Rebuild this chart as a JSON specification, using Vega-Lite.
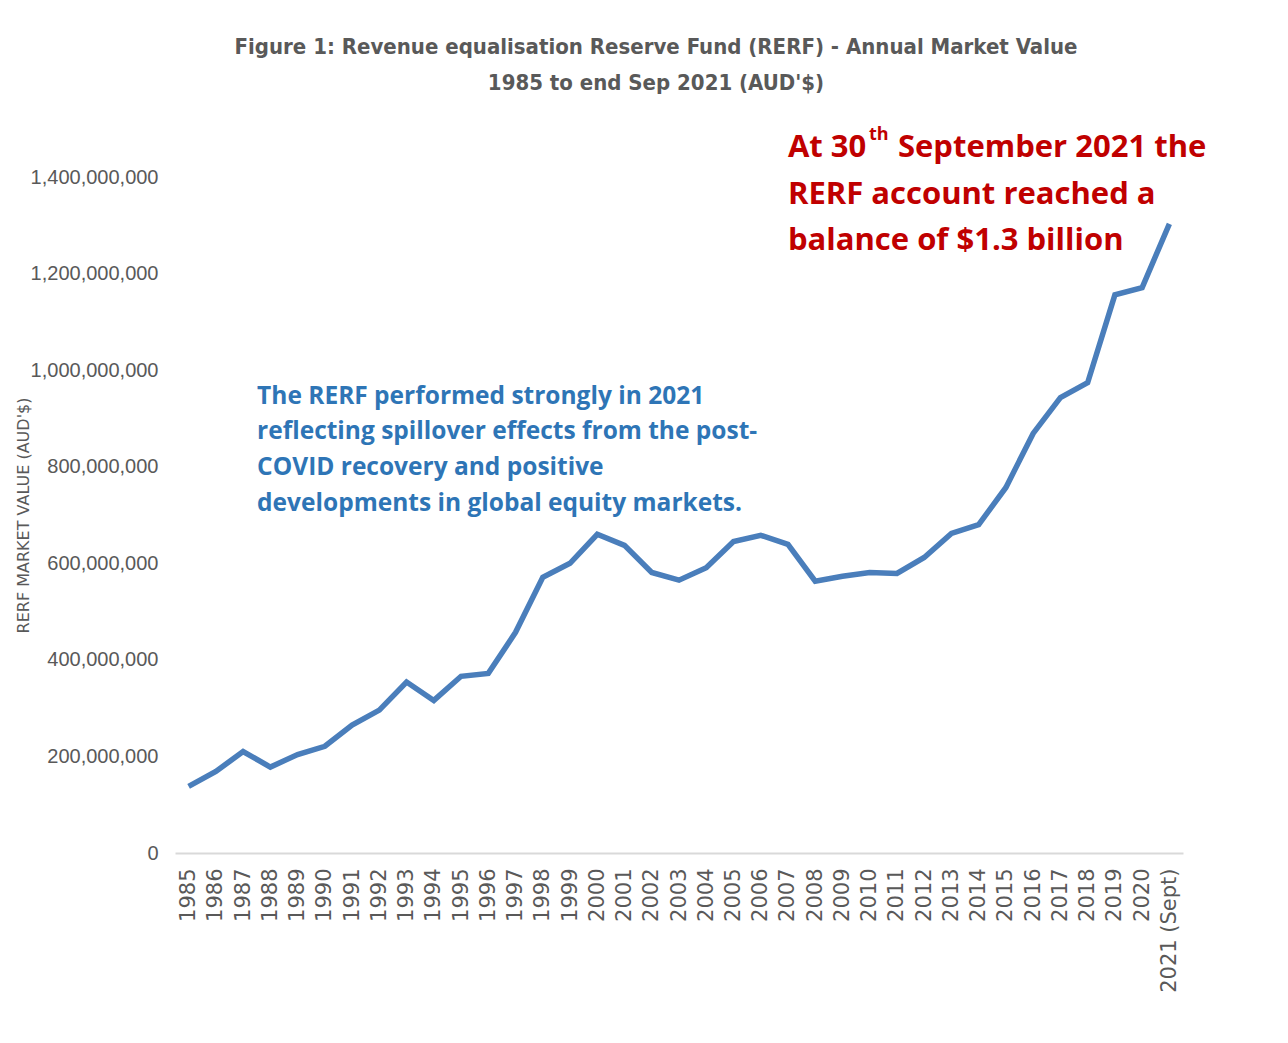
{
  "$schema": "https://vega.github.io/schema/vega-lite/v6.json",
  "width": 1008,
  "height": 676,
  "autosize": "none",
  "padding": {"left": 175, "top": 177, "right": 105, "bottom": 190},
  "background": "white",
  "title": {
    "text": ["Figure 1: Revenue equalisation Reserve Fund (RERF) - Annual Market Value", "1985 to end Sep 2021 (AUD'$)"],
    "font": "DejaVu Sans Condensed, Liberation Sans Narrow, sans-serif",
    "fontSize": 22,
    "fontWeight": "bold",
    "color": "#595959",
    "anchor": "middle",
    "dx": -23,
    "offset": 31,
    "lineHeight": 36
  },
  "config": {
    "view": {"stroke": null},
    "axis": {"grid": false, "ticks": false, "labelColor": "#595959", "titleColor": "#595959", "labelFont": "Liberation Sans, sans-serif", "titleFont": "DejaVu Sans, sans-serif"}
  },
  "datasets": {
    "rerf": [
      {"year": "1985", "value": 138000000},
      {"year": "1986", "value": 169000000},
      {"year": "1987", "value": 210000000},
      {"year": "1988", "value": 178000000},
      {"year": "1989", "value": 204000000},
      {"year": "1990", "value": 221000000},
      {"year": "1991", "value": 265000000},
      {"year": "1992", "value": 296000000},
      {"year": "1993", "value": 354000000},
      {"year": "1994", "value": 316000000},
      {"year": "1995", "value": 366000000},
      {"year": "1996", "value": 372000000},
      {"year": "1997", "value": 457000000},
      {"year": "1998", "value": 571000000},
      {"year": "1999", "value": 600000000},
      {"year": "2000", "value": 660000000},
      {"year": "2001", "value": 637000000},
      {"year": "2002", "value": 581000000},
      {"year": "2003", "value": 565000000},
      {"year": "2004", "value": 591000000},
      {"year": "2005", "value": 645000000},
      {"year": "2006", "value": 658000000},
      {"year": "2007", "value": 639000000},
      {"year": "2008", "value": 563000000},
      {"year": "2009", "value": 573000000},
      {"year": "2010", "value": 581000000},
      {"year": "2011", "value": 579000000},
      {"year": "2012", "value": 612000000},
      {"year": "2013", "value": 662000000},
      {"year": "2014", "value": 680000000},
      {"year": "2015", "value": 757000000},
      {"year": "2016", "value": 869000000},
      {"year": "2017", "value": 943000000},
      {"year": "2018", "value": 974000000},
      {"year": "2019", "value": 1156000000},
      {"year": "2020", "value": 1171000000},
      {"year": "2021 (Sept)", "value": 1303000000}
    ],
    "blueNote": [
      {"year": "1987", "value": 944000000, "text": "The RERF performed strongly in 2021"},
      {"year": "1987", "value": 872000000, "text": "reflecting spillover effects from the post-"},
      {"year": "1987", "value": 797000000, "text": "COVID recovery and positive"},
      {"year": "1987", "value": 723000000, "text": "developments in global equity markets."}
    ],
    "redNote": [
      {"year": "2007", "value": 1460000000, "text": "At 30"},
      {"year": "2007", "value": 1363000000, "text": "RERF account reached a"},
      {"year": "2007", "value": 1267000000, "text": "balance of $1.3 billion"}
    ],
    "redSup": [
      {"year": "2007", "value": 1487000000, "text": "th"}
    ],
    "redRest": [
      {"year": "2007", "value": 1460000000, "text": "September 2021 the"}
    ]
  },
  "encoding": {
    "x": {
      "field": "year",
      "type": "ordinal",
      "sort": null,
      "scale": {"type": "point", "padding": 0.5},
      "axis": {
        "title": null,
        "labelAngle": 270,
        "labelAlign": "right",
        "labelBaseline": "middle",
        "labelFont": "DejaVu Sans, sans-serif",
        "labelFontSize": 21,
        "labelPadding": 15,
        "domainColor": "#d9d9d9",
        "domainWidth": 2
      }
    },
    "y": {
      "field": "value",
      "type": "quantitative",
      "scale": {"domain": [0, 1400000000], "nice": false},
      "axis": {
        "title": "RERF MARKET VALUE (AUD'$)",
        "titleFontSize": 16,
        "titleFontWeight": "normal",
        "titlePadding": -1,
        "values": [0, 200000000, 400000000, 600000000, 800000000, 1000000000, 1200000000, 1400000000],
        "format": ",d",
        "labelFontSize": 20,
        "labelPadding": 17,
        "domain": false
      }
    }
  },
  "layer": [
    {
      "data": {"name": "rerf"},
      "mark": {"type": "line", "color": "#4A7EBB", "strokeWidth": 5.5, "strokeJoin": "miter", "clip": false}
    },
    {
      "data": {"name": "blueNote"},
      "mark": {"type": "text", "align": "left", "baseline": "middle", "dx": 14, "font": "Open Sans, Lato, sans-serif", "fontWeight": "bold", "fontSize": 24.5, "color": "#2E75B6"},
      "encoding": {"text": {"field": "text"}}
    },
    {
      "data": {"name": "redNote"},
      "mark": {"type": "text", "align": "left", "baseline": "middle", "dx": 0, "font": "Open Sans, Lato, sans-serif", "fontWeight": "bold", "fontSize": 31, "color": "#C00000"},
      "encoding": {"text": {"field": "text"}}
    },
    {
      "data": {"name": "redSup"},
      "mark": {"type": "text", "align": "left", "baseline": "middle", "dx": 81, "font": "Open Sans, Lato, sans-serif", "fontWeight": "bold", "fontSize": 18, "color": "#C00000"},
      "encoding": {"text": {"field": "text"}}
    },
    {
      "data": {"name": "redRest"},
      "mark": {"type": "text", "align": "left", "baseline": "middle", "dx": 110, "font": "Open Sans, Lato, sans-serif", "fontWeight": "bold", "fontSize": 31, "color": "#C00000"},
      "encoding": {"text": {"field": "text"}}
    }
  ]
}
